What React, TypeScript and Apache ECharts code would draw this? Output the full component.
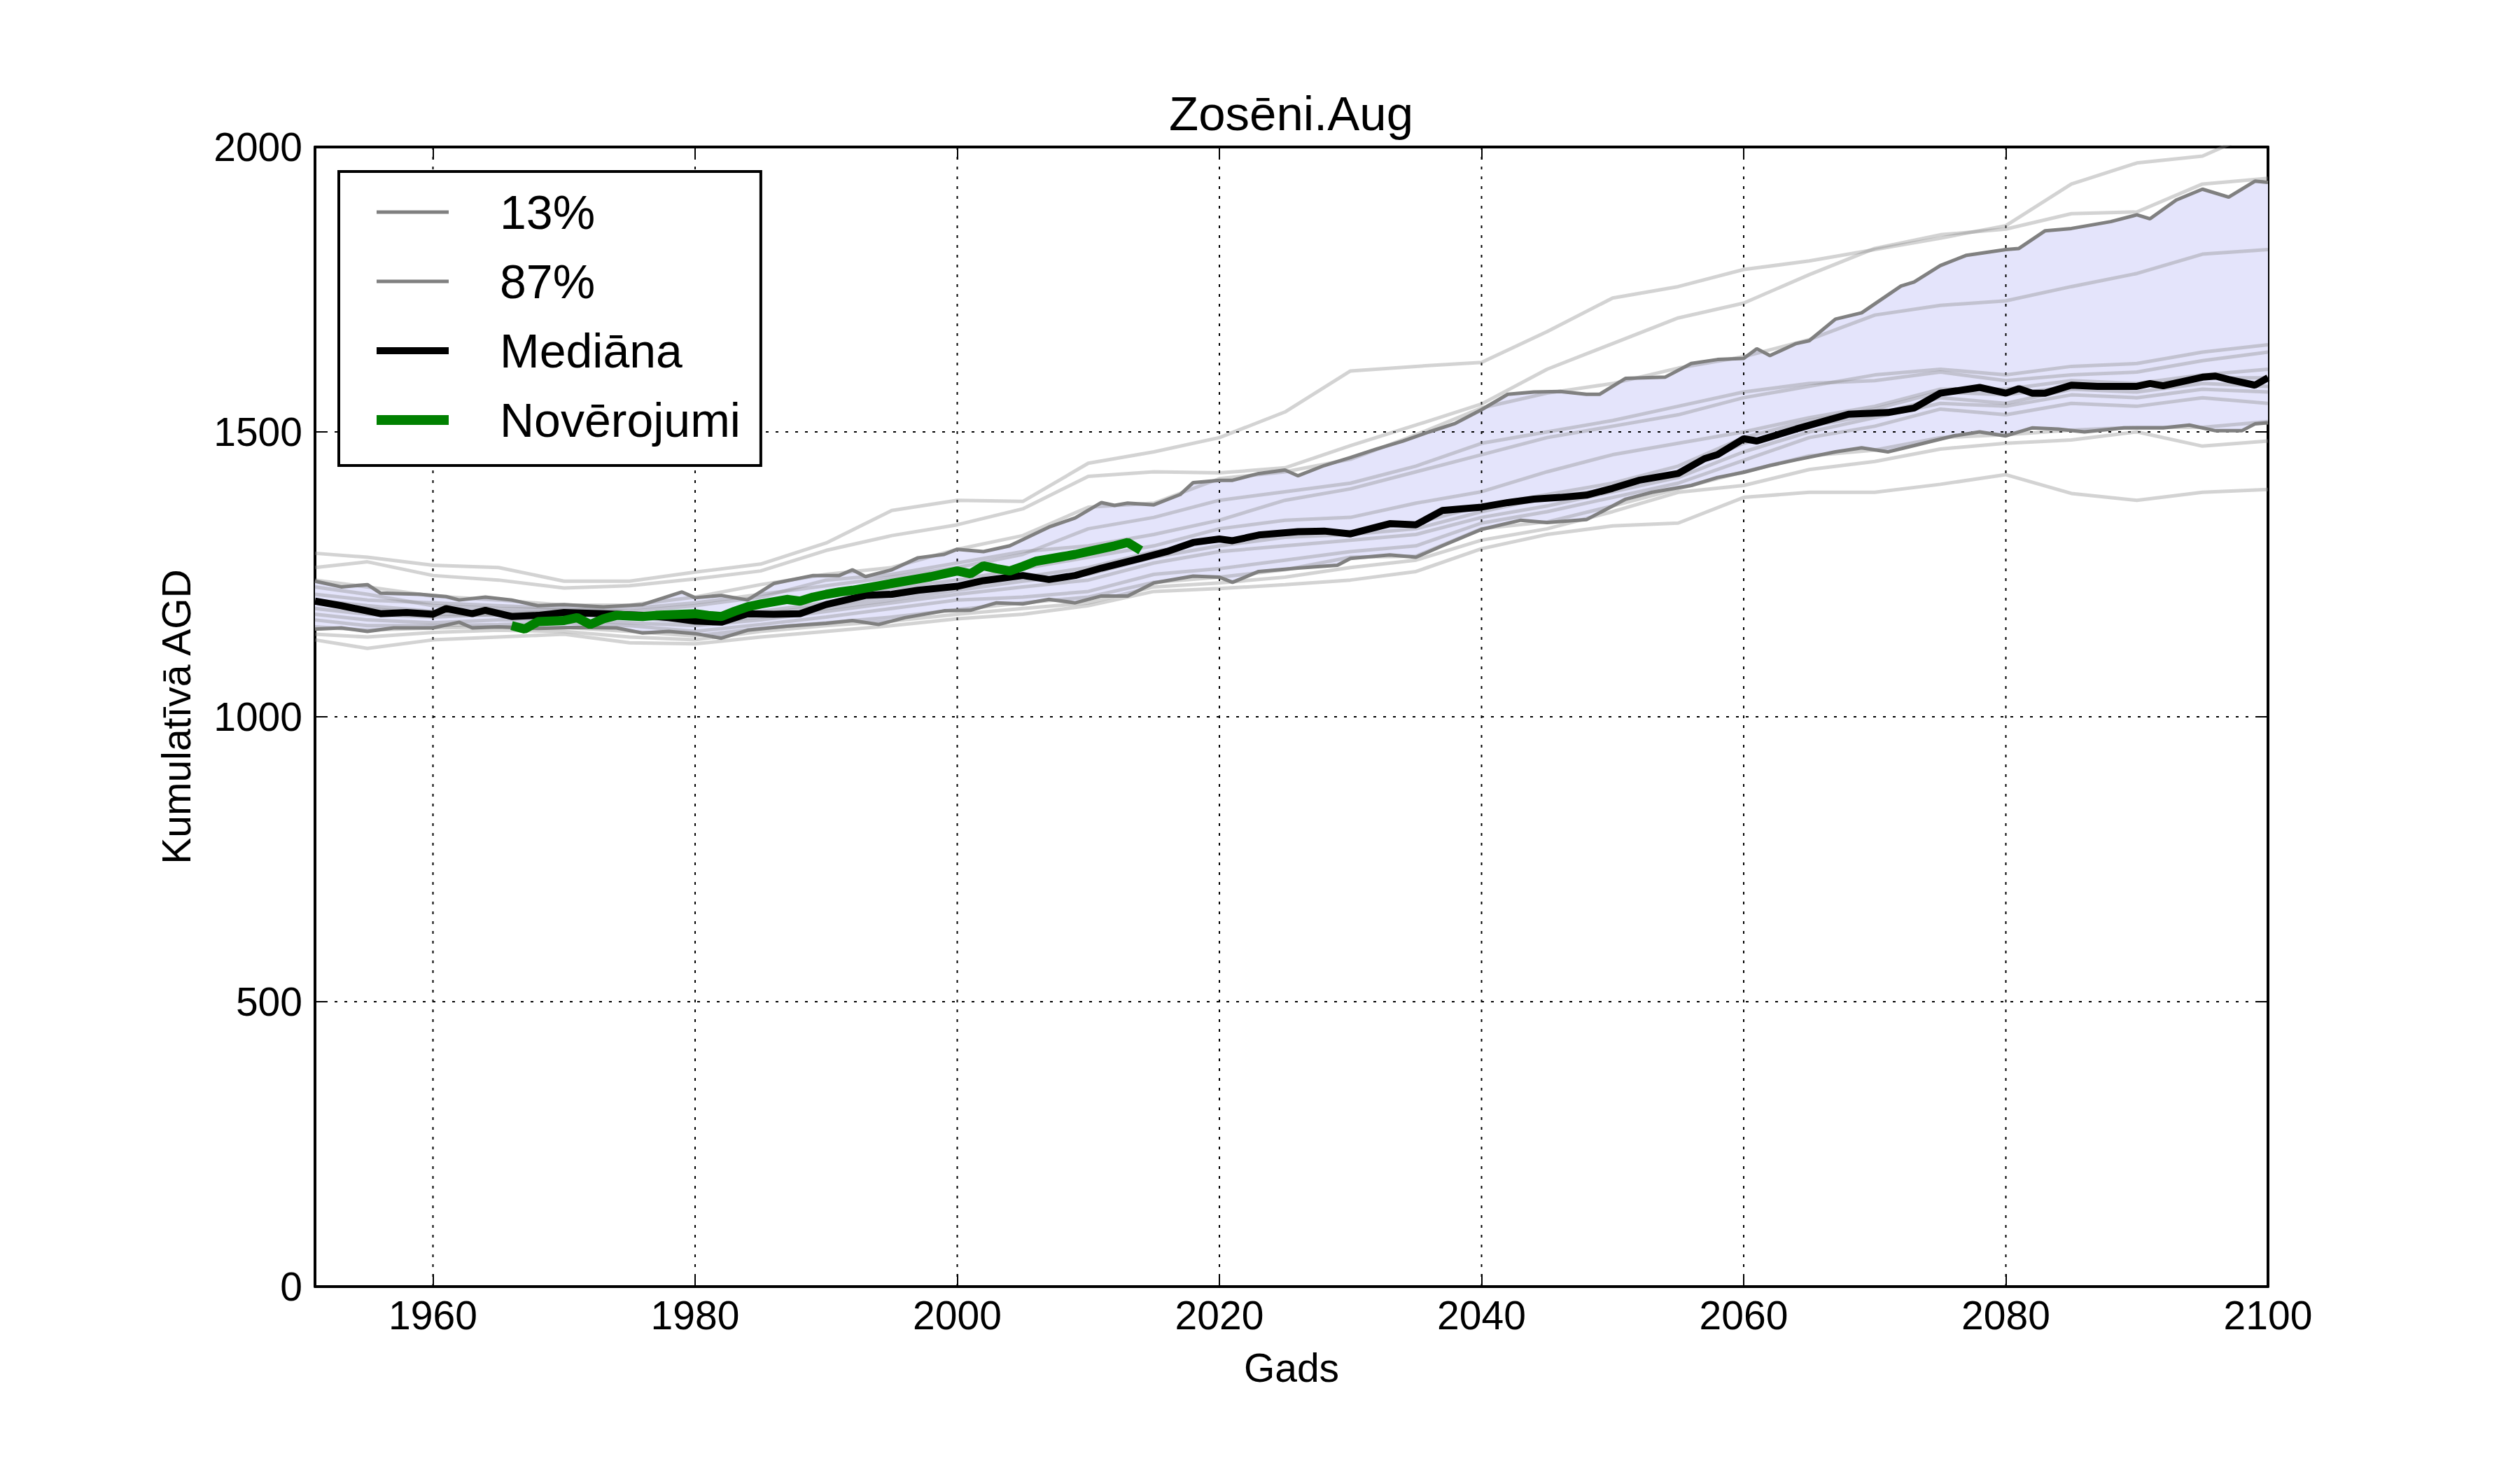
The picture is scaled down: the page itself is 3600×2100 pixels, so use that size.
import React, { useEffect, useRef } from "react";
import * as echarts from "echarts";

// ---------- data ----------
const xTickValues = [1960, 1980, 2000, 2020, 2040, 2060, 2080, 2100];
const xGridValues = [1960, 1980, 2000, 2020, 2040, 2060, 2080];
const yGridValues = [500, 1000, 1500];

const median: [number, number][] = [
  [1951, 1203], [1953, 1195], [1956, 1181], [1958, 1183], [1960, 1180], [1961, 1190], [1963, 1181], [1964, 1187],
  [1966, 1176], [1968, 1178], [1970, 1183], [1973, 1181], [1976, 1178], [1978, 1174], [1980, 1168], [1982, 1166],
  [1984, 1181], [1986, 1180], [1988, 1181], [1990, 1197], [1993, 1213], [1995, 1215], [1997, 1222], [2000, 1229],
  [2002, 1239], [2005, 1248], [2007, 1241], [2009, 1248], [2011, 1261], [2014, 1278], [2016, 1290], [2018, 1306],
  [2020, 1312], [2021, 1309], [2023, 1319], [2026, 1325], [2028, 1326], [2030, 1321], [2033, 1339], [2035, 1337],
  [2037, 1362], [2040, 1368], [2042, 1376], [2044, 1382], [2046, 1385], [2048, 1389], [2050, 1401], [2052, 1415],
  [2055, 1427], [2057, 1453], [2058, 1460], [2060, 1488], [2061, 1484], [2064, 1505], [2068, 1531], [2071, 1534],
  [2073, 1542], [2075, 1568], [2078, 1578], [2080, 1568], [2081, 1576], [2082, 1568], [2083, 1568], [2085, 1582],
  [2087, 1580], [2090, 1580], [2091, 1585], [2092, 1581], [2095, 1596], [2096, 1598], [2097, 1592], [2099, 1582],
  [2100, 1595],
];

const p87: [number, number][] = [
  [1951, 1238], [1953, 1228], [1955, 1232], [1956, 1217], [1959, 1215], [1961, 1211], [1962, 1205], [1964, 1210],
  [1966, 1205], [1968, 1195], [1970, 1197], [1973, 1193], [1976, 1197], [1979, 1219], [1980, 1209], [1982, 1213],
  [1984, 1205], [1986, 1234], [1989, 1248], [1991, 1248], [1992, 1258], [1993, 1246], [1995, 1258], [1997, 1279],
  [1999, 1285], [2000, 1294], [2002, 1290], [2004, 1300], [2007, 1333], [2009, 1349], [2011, 1376], [2012, 1371],
  [2013, 1375], [2015, 1372], [2017, 1390], [2018, 1411], [2020, 1415], [2021, 1415], [2023, 1427], [2025, 1433],
  [2026, 1423], [2028, 1441], [2030, 1455], [2032, 1470], [2034, 1484], [2036, 1500], [2038, 1515], [2040, 1539],
  [2042, 1566], [2044, 1570], [2046, 1571], [2048, 1566], [2049, 1566], [2051, 1594], [2054, 1596], [2056, 1620],
  [2058, 1627], [2060, 1629], [2061, 1646], [2062, 1634], [2064, 1655], [2065, 1660], [2067, 1698], [2069, 1709],
  [2072, 1756], [2073, 1763], [2075, 1792], [2077, 1810], [2080, 1820], [2081, 1822], [2083, 1853], [2085, 1857],
  [2088, 1869], [2090, 1881], [2091, 1874], [2093, 1907], [2095, 1926], [2097, 1912], [2099, 1940], [2100, 1938],
];

const p13: [number, number][] = [
  [1951, 1154], [1953, 1156], [1955, 1150], [1957, 1156], [1960, 1156], [1962, 1166], [1963, 1156], [1965, 1158],
  [1968, 1155], [1971, 1157], [1974, 1156], [1976, 1147], [1978, 1150], [1980, 1146], [1982, 1138], [1984, 1152],
  [1987, 1159], [1990, 1164], [1992, 1169], [1994, 1162], [1996, 1174], [1999, 1186], [2001, 1187], [2003, 1200],
  [2005, 1198], [2007, 1206], [2009, 1200], [2011, 1212], [2013, 1212], [2015, 1235], [2018, 1247], [2020, 1245],
  [2021, 1236], [2023, 1255], [2026, 1261], [2029, 1266], [2030, 1278], [2033, 1284], [2035, 1280], [2037, 1300],
  [2040, 1329], [2043, 1345], [2045, 1341], [2048, 1346], [2051, 1382], [2053, 1394], [2056, 1406], [2058, 1420],
  [2060, 1429], [2062, 1441], [2064, 1451], [2067, 1465], [2069, 1472], [2071, 1465], [2073, 1476], [2076, 1493],
  [2078, 1500], [2080, 1493], [2082, 1507], [2084, 1505], [2086, 1500], [2089, 1507], [2092, 1507], [2094, 1512],
  [2096, 1502], [2098, 1502], [2099, 1514], [2100, 1516],
];

const obsYears = [
  1966, 1967, 1968, 1969, 1970, 1971, 1972, 1973, 1974, 1975, 1976, 1977, 1978, 1979, 1980, 1981, 1982,
  1983, 1984, 1985, 1986, 1987, 1988, 1989, 1990, 1991, 1992, 1993, 1994, 1995, 1996, 1997, 1998, 1999,
  2000, 2001, 2002, 2003, 2004, 2005, 2006, 2007, 2008, 2009, 2010, 2011, 2012, 2013, 2014,
];
const obsValues = [
  1160, 1154, 1167, 1168, 1169, 1174, 1162, 1172, 1178, 1177, 1176, 1178, 1179, 1180, 1181, 1178, 1176,
  1185, 1193, 1198, 1202, 1206, 1203, 1210, 1215, 1219, 1222, 1226, 1230, 1234, 1238, 1242, 1246, 1251,
  1256, 1251, 1265, 1260, 1256, 1264, 1273, 1277, 1281, 1285, 1290, 1295, 1300, 1306, 1292,
];

const memberYears = [
  1951, 1955, 1960, 1965, 1970, 1975, 1980, 1985, 1990, 1995, 2000, 2005, 2010, 2015, 2020, 2025,
  2030, 2035, 2040, 2045, 2050, 2055, 2060, 2065, 2070, 2075, 2080, 2085, 2090, 2095, 2100,
];
const memberA = [1287, 1280, 1266, 1262, 1238, 1238, 1254, 1268, 1305, 1362, 1380, 1378, 1445, 1465, 1490, 1535, 1607, 1615, 1622, 1676, 1735, 1755, 1785, 1800, 1820, 1840, 1862, 1935, 1972, 1984, 2035];
const memberB = [1262, 1272, 1248, 1240, 1226, 1230, 1242, 1256, 1292, 1318, 1337, 1365, 1422, 1430, 1428, 1437, 1476, 1512, 1549, 1610, 1655, 1700, 1726, 1776, 1822, 1846, 1856, 1883, 1886, 1935, 1945];
const memberC = [1240, 1228, 1212, 1205, 1196, 1196, 1210, 1232, 1250, 1262, 1294, 1318, 1368, 1375, 1418, 1430, 1452, 1495, 1542, 1568, 1585, 1612, 1632, 1662, 1705, 1722, 1730, 1755, 1778, 1812, 1820];
const memberD = [1215, 1205, 1200, 1195, 1190, 1185, 1195, 1210, 1240, 1250, 1270, 1290, 1300, 1320, 1345, 1380, 1400, 1430, 1460, 1490, 1510, 1530, 1560, 1580, 1600, 1610, 1600, 1615, 1620, 1640, 1653];
const memberE = [1205, 1195, 1185, 1185, 1182, 1180, 1170, 1185, 1200, 1225, 1240, 1260, 1280, 1300, 1330, 1345, 1350, 1375, 1395, 1430, 1460, 1480, 1500, 1525, 1545, 1575, 1575, 1590, 1585, 1600, 1610];
const memberF = [1200, 1190, 1180, 1178, 1178, 1178, 1168, 1180, 1195, 1212, 1228, 1245, 1262, 1290, 1310, 1320, 1325, 1340, 1370, 1390, 1410, 1440, 1490, 1520, 1540, 1570, 1565, 1580, 1580, 1595, 1595];
const memberG = [1190, 1180, 1175, 1180, 1185, 1175, 1165, 1175, 1190, 1205, 1222, 1238, 1250, 1280, 1300, 1315, 1320, 1330, 1360, 1385, 1400, 1430, 1480, 1510, 1530, 1560, 1550, 1575, 1570, 1585, 1580];
const memberH = [1180, 1170, 1165, 1170, 1170, 1165, 1160, 1170, 1185, 1200, 1215, 1228, 1240, 1270, 1290, 1300, 1310, 1320, 1350, 1370, 1395, 1420, 1465, 1500, 1525, 1550, 1545, 1565, 1560, 1575, 1570];
const memberI = [1170, 1160, 1160, 1162, 1165, 1160, 1150, 1162, 1175, 1190, 1205, 1210, 1220, 1250, 1260, 1275, 1290, 1300, 1340, 1360, 1385, 1410, 1450, 1490, 1510, 1540, 1530, 1550, 1545, 1560, 1550];
const memberJ = [1158, 1152, 1156, 1158, 1157, 1150, 1142, 1155, 1165, 1175, 1188, 1200, 1210, 1236, 1245, 1258, 1280, 1282, 1330, 1342, 1370, 1400, 1430, 1458, 1468, 1490, 1495, 1503, 1508, 1508, 1518];
const memberK = [1145, 1140, 1148, 1152, 1150, 1140, 1135, 1150, 1160, 1168, 1180, 1190, 1200, 1228, 1235, 1245, 1262, 1275, 1310, 1330, 1360, 1394, 1406, 1434, 1448, 1470, 1480, 1486, 1500, 1475, 1484];
const memberL = [1135, 1120, 1135, 1140, 1145, 1130, 1128, 1140, 1150, 1160, 1172, 1180, 1195, 1220, 1225, 1232, 1240, 1255, 1295, 1320, 1335, 1340, 1385, 1394, 1394, 1408, 1425, 1392, 1380, 1394, 1399];
const memberM = [1228, 1215, 1195, 1190, 1188, 1190, 1200, 1215, 1230, 1245, 1262, 1285, 1330, 1350, 1380, 1395, 1410, 1440, 1480, 1500, 1520, 1545, 1570, 1585, 1590, 1605, 1590, 1600, 1605, 1625, 1640];
const members = [memberA, memberB, memberC, memberD, memberE, memberF, memberG, memberH, memberI, memberJ, memberK, memberL, memberM];

// ---------- styles ----------
const FONT = "Liberation Sans, Arial, sans-serif";
const FILL = "#e4e4fb";
const PCT = "#808080";
const MEMBER = "rgba(140,140,140,0.38)";
const GREEN = "#008000";
const plain = (v: number) => String(v);

function buildOption(): any {
  const memberSeries = members.map((vals, i) => ({
    name: "member" + (i + 1),
    type: "line",
    symbol: "none",
    z: 3,
    data: memberYears.map((y, j) => [y, vals[j]]),
    lineStyle: { color: MEMBER, width: 5 },
    silent: true,
  }));

  const hiddenSymbol = { opacity: 0, color: "rgba(0,0,0,0)", borderWidth: 0 };

  return {
    animation: false,
    backgroundColor: "#ffffff",
    textStyle: { fontFamily: FONT },
    title: {
      text: "Zosēni.Aug",
      left: 1670,
      top: 128,
      padding: 0,
      textStyle: { fontFamily: FONT, fontSize: 69, fontWeight: "normal", color: "#000" },
    },
    legend: {
      data: [
        { name: "13%", lineStyle: { width: 5, color: PCT }, itemStyle: hiddenSymbol },
        { name: "87%", lineStyle: { width: 5, color: PCT }, itemStyle: hiddenSymbol },
        { name: "Mediāna", lineStyle: { width: 10, color: "#000" }, itemStyle: hiddenSymbol },
        { name: "Novērojumi", lineStyle: { width: 14, color: GREEN }, itemStyle: hiddenSymbol },
      ],
      orient: "vertical",
      left: 484,
      top: 245,
      padding: [18, 29, 25, 47],
      itemWidth: 103,
      itemHeight: 20,
      itemGap: 19,
      backgroundColor: "#fff",
      borderColor: "#000",
      borderWidth: 4,
      borderRadius: 0,
      textStyle: { fontFamily: FONT, fontSize: 68, color: "#000", padding: [0, 0, 0, 68], lineHeight: 80 },
    },
    grid: { left: 450, right: 360, top: 210, bottom: 262, containLabel: false, outerBoundsMode: "none" },
    xAxis: [
      {
        type: "value",
        min: 1951,
        max: 2100,
        position: "bottom",
        name: "Gads",
        nameLocation: "middle",
        nameGap: 87,
        nameTextStyle: { fontFamily: FONT, fontSize: 57, color: "#000" },
        axisLine: { show: true, onZero: false, lineStyle: { color: "#000", width: 4 } },
        axisTick: { show: true, inside: true, length: 18, customValues: xTickValues, lineStyle: { color: "#000", width: 2 } },
        axisLabel: { show: true, customValues: xTickValues, formatter: plain, margin: 12, fontFamily: FONT, fontSize: 57, color: "#000" },
        splitLine: { show: false },
      },
      {
        type: "value",
        min: 1951,
        max: 2100,
        position: "top",
        axisLine: { show: true, onZero: false, lineStyle: { color: "#000", width: 4 } },
        axisTick: { show: true, inside: true, length: 18, customValues: xTickValues, lineStyle: { color: "#000", width: 2 } },
        axisLabel: { show: false },
        splitLine: { show: false },
      },
    ],
    yAxis: [
      {
        type: "value",
        min: 0,
        max: 2000,
        interval: 500,
        position: "left",
        name: "Kumulatīvā AGD",
        nameLocation: "middle",
        nameRotate: 90,
        nameGap: 170,
        nameTextStyle: { fontFamily: FONT, fontSize: 57, color: "#000" },
        axisLine: { show: true, onZero: false, lineStyle: { color: "#000", width: 4 } },
        axisTick: { show: true, inside: true, length: 18, lineStyle: { color: "#000", width: 2 } },
        axisLabel: { show: true, formatter: plain, margin: 18, fontFamily: FONT, fontSize: 57, color: "#000" },
        splitLine: { show: false },
      },
      {
        type: "value",
        min: 0,
        max: 2000,
        interval: 500,
        position: "right",
        axisLine: { show: true, onZero: false, lineStyle: { color: "#000", width: 4 } },
        axisTick: { show: true, inside: true, length: 18, lineStyle: { color: "#000", width: 2 } },
        axisLabel: { show: false },
        splitLine: { show: false },
      },
    ],
    series: [
      {
        name: "band",
        type: "custom",
        silent: true,
        z: 1,
        data: [[1951, 0]],
        encode: { x: 0, y: 1 },
        renderItem: (_params: any, api: any) => {
          const pts: number[][] = [];
          for (const p of p87) pts.push(api.coord(p));
          for (let i = p13.length - 1; i >= 0; i--) pts.push(api.coord(p13[i]));
          return { type: "polygon", shape: { points: pts }, style: { fill: FILL, stroke: "none" } };
        },
      },
      {
        name: "vgrid",
        type: "custom",
        silent: true,
        z: 2,
        data: xGridValues.map((v) => [v, 0]),
        encode: { x: 0, y: 1 },
        renderItem: (_params: any, api: any) => {
          const x = api.value(0);
          const a = api.coord([x, 0]);
          const b = api.coord([x, 2000]);
          return {
            type: "line",
            shape: { x1: a[0], y1: a[1], x2: b[0], y2: b[1] },
            style: { stroke: "#000", lineWidth: 2, lineDash: [4, 10] },
          };
        },
      },
      {
        name: "hgrid",
        type: "custom",
        silent: true,
        z: 2,
        data: yGridValues.map((v) => [1951, v]),
        encode: { x: 0, y: 1 },
        renderItem: (_params: any, api: any) => {
          const y = api.value(1);
          const a = api.coord([1951, y]);
          const b = api.coord([2100, y]);
          return {
            type: "line",
            shape: { x1: a[0], y1: a[1], x2: b[0], y2: b[1] },
            style: { stroke: "#000", lineWidth: 2, lineDash: [4, 10] },
          };
        },
      },
      ...memberSeries,
      {
        name: "13%",
        type: "line",
        symbol: "none",
        z: 4,
        data: p13,
        lineStyle: { color: PCT, width: 5 },
        itemStyle: { color: PCT },
      },
      {
        name: "87%",
        type: "line",
        symbol: "none",
        z: 4,
        data: p87,
        lineStyle: { color: PCT, width: 5 },
        itemStyle: { color: PCT },
      },
      {
        name: "Mediāna",
        type: "line",
        symbol: "none",
        z: 5,
        data: median,
        lineStyle: { color: "#000", width: 10 },
        itemStyle: { color: "#000" },
      },
      {
        name: "Novērojumi",
        type: "line",
        symbol: "none",
        z: 6,
        data: obsYears.map((y, i) => [y, obsValues[i]]),
        lineStyle: { color: GREEN, width: 13 },
        itemStyle: { color: GREEN },
      },
    ],
  };
}

export default function App() {
  const ref = useRef<HTMLDivElement>(null);
  useEffect(() => {
    if (!ref.current) return;
    const chart = echarts.init(ref.current, null, { renderer: "svg" });
    chart.setOption(buildOption());
    return () => {
      chart.dispose();
    };
  }, []);
  return (
    <div
      ref={ref}
      style={{ position: "fixed", left: 0, top: 0, width: 3600, height: 2100, background: "#fff" }}
    />
  );
}
